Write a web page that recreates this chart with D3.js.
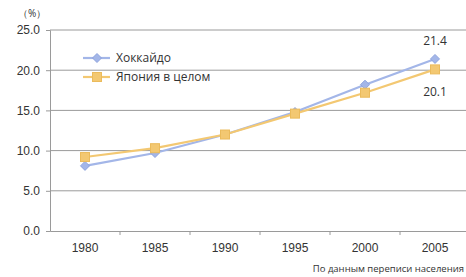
<!DOCTYPE html>
<html>
<head>
<meta charset="utf-8">
<script src="https://cdn.jsdelivr.net/npm/d3@7"></script>
<style>
  body { margin: 0; background: #fff; }
  svg { display: block; font-family: "Open Sans", "Noto Sans", sans-serif; }
</style>
</head>
<body>
<div id="chart"></div>
<script>
const width = 466;
const height = 277;

const years = ["1980", "1985", "1990", "1995", "2000", "2005"];
const hokkaido = [8.1, 9.7, 12.0, 14.8, 18.2, 21.4];
const japan = [9.2, 10.3, 12.0, 14.6, 17.2, 20.1];
const yTicks = [0, 5, 10, 15, 20, 25];

const series = [
  { name: "Хоккайдо", values: hokkaido, color: "#a3b6e8", marker: "diamond" },
  { name: "Япония в целом", values: japan, color: "#f3c872", marker: "square" }
];

const svg = d3.select("#chart").append("svg")
  .attr("width", width)
  .attr("height", height);

const x = d3.scaleBand()
  .domain(years)
  .range([50, 470]);

const y = d3.scaleLinear()
  .domain([0, 25])
  .range([231, 30]);

// gridlines
svg.append("g")
  .selectAll("line")
  .data(yTicks.filter(d => d > 0))
  .enter()
  .append("line")
  .attr("x1", 50)
  .attr("x2", width)
  .attr("y1", d => y(d))
  .attr("y2", d => y(d))
  .attr("stroke", "#9a9a9a")
  .attr("stroke-width", 1);

// y axis
const yAxis = svg.append("g")
  .attr("transform", "translate(50,0)")
  .call(d3.axisLeft(y).tickValues(yTicks).tickFormat(d3.format(".1f")).tickSize(4));
yAxis.select(".domain").attr("stroke", "#9a9a9a");
yAxis.selectAll(".tick line").attr("stroke", "#9a9a9a");
yAxis.selectAll("text")
  .attr("x", -10)
  .style("font-size", "12px")
  .attr("fill", "#333");

// x axis
const xAxis = svg.append("g")
  .attr("transform", "translate(0,231)")
  .call(d3.axisBottom(x).tickSize(0));
xAxis.select(".domain").attr("stroke", "#9a9a9a");
xAxis.selectAll("text")
  .attr("dy", "1.1em")
  .attr("y", 8)
  .style("font-size", "12px")
  .attr("fill", "#333");
// tick marks at band boundaries
svg.append("g")
  .selectAll("line")
  .data(years)
  .enter()
  .append("line")
  .attr("x1", d => x(d) + x.bandwidth())
  .attr("x2", d => x(d) + x.bandwidth())
  .attr("y1", 231)
  .attr("y2", 235)
  .attr("stroke", "#9a9a9a");

svg.append("text")
  .attr("x", 18)
  .attr("y", 17)
  .style("font-size", "10px")
  .attr("fill", "#333")
  .text("（%）");

const cx = (d, i) => x(years[i]) + x.bandwidth() / 2;

const line = d3.line()
  .x(cx)
  .y(d => y(d));

function drawMarker(g, type, color) {
  if (type === "diamond") {
    g.append("path")
      .attr("d", "M0,-4.5L4.5,0L0,4.5L-4.5,0Z")
      .attr("fill", color)
      .attr("stroke", "#8ea4de")
      .attr("stroke-width", 1);
  } else {
    g.append("rect")
      .attr("x", -4.5).attr("y", -4.5)
      .attr("width", 9).attr("height", 9)
      .attr("fill", color)
      .attr("stroke", "#ebbb5c")
      .attr("stroke-width", 1);
  }
}

series.forEach(s => {
  svg.append("path")
    .datum(s.values)
    .attr("d", line)
    .attr("fill", "none")
    .attr("stroke", s.color)
    .attr("stroke-width", 2.2);

  s.values.forEach((v, i) => {
    const g = svg.append("g")
      .attr("transform", `translate(${cx(v, i)},${y(v)})`);
    drawMarker(g, s.marker, s.color);
  });
});

// value labels
svg.append("text")
  .attr("x", cx(0, 5))
  .attr("y", y(hokkaido[5]) - 14)
  .attr("text-anchor", "middle")
  .style("font-size", "12px")
  .attr("fill", "#333")
  .text(hokkaido[5].toFixed(1));

svg.append("text")
  .attr("x", cx(0, 5))
  .attr("y", y(japan[5]) + 27)
  .attr("text-anchor", "middle")
  .style("font-size", "12px")
  .attr("fill", "#333")
  .text(japan[5].toFixed(1));

// legend
const legend = svg.append("g").attr("transform", "translate(83,58)");
series.forEach((s, i) => {
  const row = legend.append("g").attr("transform", `translate(0,${i * 19})`);
  row.append("line")
    .attr("x1", 0).attr("x2", 27)
    .attr("stroke", s.color)
    .attr("stroke-width", 2.2);
  const m = row.append("g").attr("transform", "translate(14,0)");
  drawMarker(m, s.marker, s.color);
  row.append("text")
    .attr("x", 33)
    .attr("y", 4)
    .style("font-size", "12px")
    .attr("fill", "#333")
    .text(s.name);
});

// source
svg.append("text")
  .attr("x", 464)
  .attr("y", 272)
  .attr("text-anchor", "end")
  .style("font-size", "9.5px")
  .attr("fill", "#333")
  .text("По данным переписи населения");
</script>
</body>
</html>
